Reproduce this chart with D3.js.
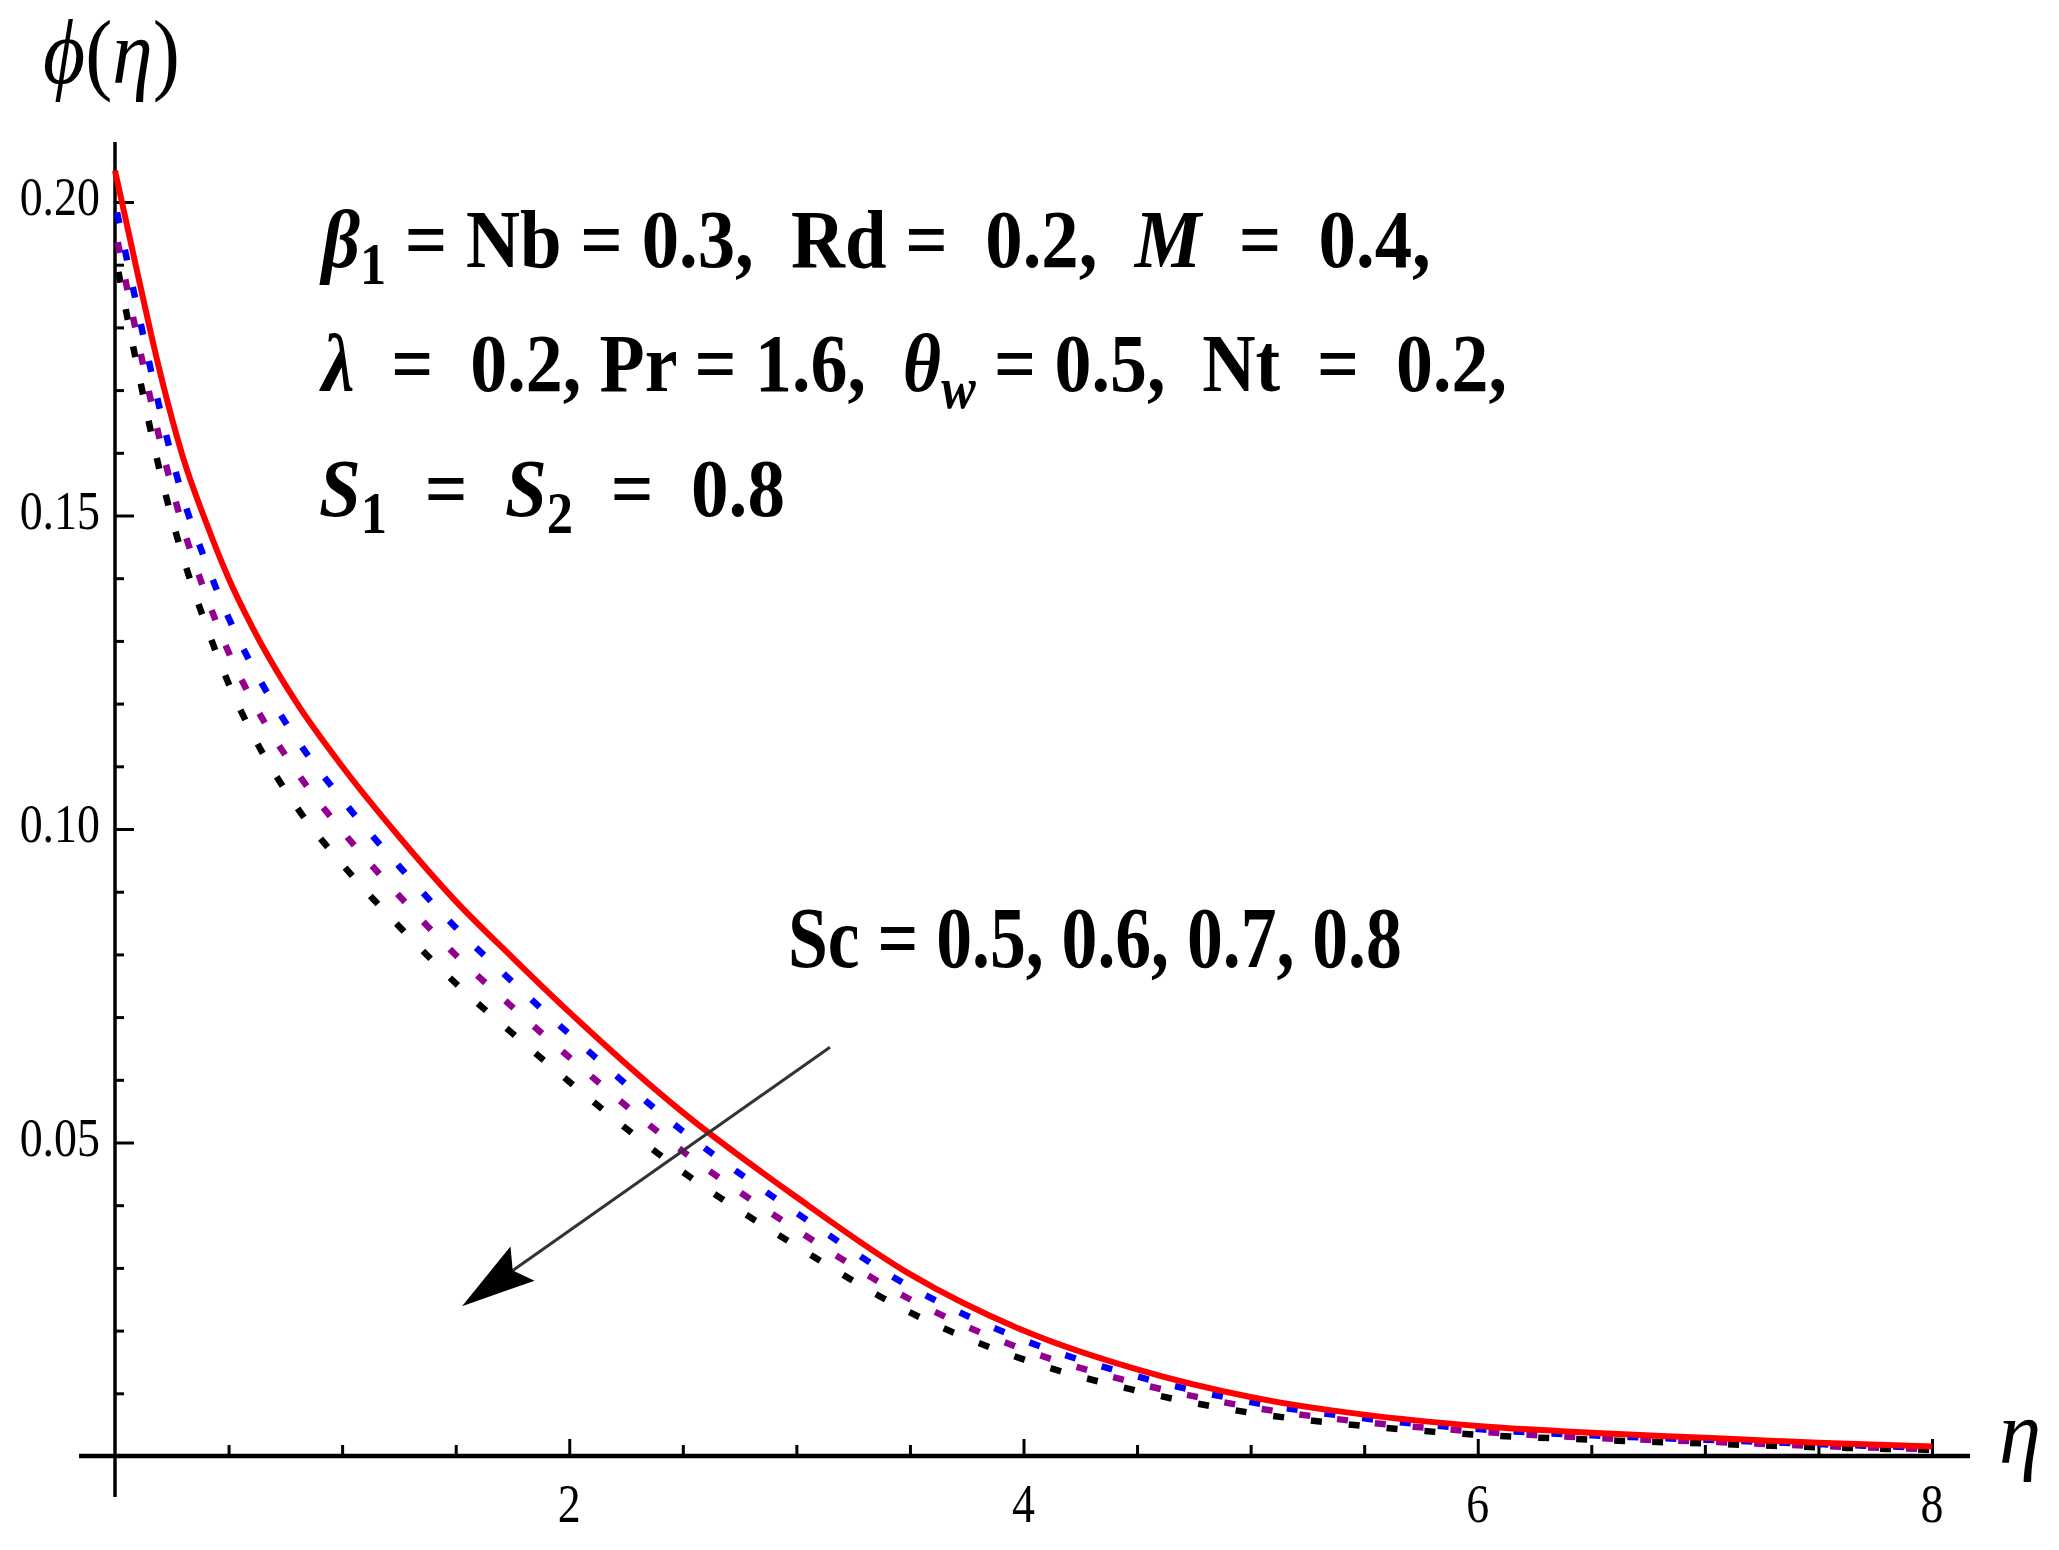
<!DOCTYPE html>
<html>
<head>
<meta charset="utf-8">
<script src="https://cdn.jsdelivr.net/npm/d3@7"></script>
<style>
  html, body { margin: 0; padding: 0; background: #ffffff; }
  svg { display: block; }
  text { font-family: "Liberation Serif", "Times New Roman", serif; }
</style>
</head>
<body>
<svg id="chart" width="2059" height="1550"></svg>
<script>
// ---------------- data ----------------
const etaValues = [0, 0.1, 0.2, 0.3, 0.4, 0.5, 0.6, 0.8, 1.0, 1.25, 1.5, 1.75, 2, 2.5, 3, 3.5, 4, 4.5, 5, 5.5, 6, 6.5, 7, 7.5, 8];
const phiSc05 = [0.2050, 0.1885, 0.1726, 0.1592, 0.1490, 0.1400, 0.1325, 0.1201, 0.1100, 0.0988, 0.0885, 0.0795, 0.0708, 0.0548, 0.0413, 0.0290, 0.0200, 0.0138, 0.0094, 0.0066, 0.0048, 0.0037, 0.0029, 0.0021, 0.0015];
const phiSc06 = [0.1999, 0.1828, 0.1666, 0.1528, 0.1426, 0.1337, 0.1263, 0.1143, 0.1047, 0.0941, 0.0843, 0.0756, 0.0673, 0.0518, 0.0388, 0.0270, 0.0185, 0.0127, 0.0086, 0.0060, 0.0043, 0.0033, 0.0026, 0.0019, 0.0013];
const phiSc07 = [0.1958, 0.1781, 0.1617, 0.1481, 0.1374, 0.1282, 0.1208, 0.1091, 0.0997, 0.0894, 0.0799, 0.0716, 0.0636, 0.0486, 0.0361, 0.0250, 0.0170, 0.0116, 0.0078, 0.0054, 0.0039, 0.0029, 0.0023, 0.0016, 0.0011];
const phiSc08 = [0.1917, 0.1734, 0.1567, 0.1433, 0.1326, 0.1232, 0.1155, 0.1035, 0.0944, 0.0845, 0.0754, 0.0674, 0.0597, 0.0453, 0.0335, 0.0229, 0.0154, 0.0104, 0.0069, 0.0048, 0.0034, 0.0026, 0.0020, 0.0014, 0.0010];
const scValues = ["0.5", "0.6", "0.7", "0.8"];

const xMajorTicks = [2, 4, 6, 8];
const xMinorTicks = [0.5, 1, 1.5, 2.5, 3, 3.5, 4.5, 5, 5.5, 6.5, 7, 7.5];
const xTickLabels = ["2", "4", "6", "8"];
const yMajorTicks = [0.05, 0.10, 0.15, 0.20];
const yMinorTicks = [0.01, 0.02, 0.03, 0.04, 0.06, 0.07, 0.08, 0.09, 0.11, 0.12, 0.13, 0.14, 0.16, 0.17, 0.18, 0.19];
const yTickLabels = ["0.05", "0.10", "0.15", "0.20"];

// arrow annotation (data coordinates: eta, phi)
const arrowFrom = [3.148, 0.0652];
const arrowTo = [1.528, 0.0239];

// ---------------- styles ----------------
const seriesStyle = [
  { color: "#ff0000", dash: null, width: 6 },
  { color: "#0000ff", dash: "11,27", width: 6.5 },
  { color: "#920092", dash: "11,27", width: 6.5 },
  { color: "#000000", dash: "11,27", width: 6.5 }
];

// ---------------- layout ----------------
const svg = d3.select("#chart");
const x = d3.scaleLinear().domain([0, 8]).range([115, 1932]);
const y = d3.scaleLinear().domain([0, 0.2]).range([1456, 202]);

// axes lines
svg.append("line").attr("x1", 79).attr("x2", 1970).attr("y1", y(0)).attr("y2", y(0))
  .attr("stroke", "#000").attr("stroke-width", 4.5);
svg.append("line").attr("x1", x(0)).attr("x2", x(0)).attr("y1", 142).attr("y2", 1497)
  .attr("stroke", "#000").attr("stroke-width", 3.5);

function styleAxis(g) {
  g.select(".domain").remove();
  g.selectAll(".tick line").attr("stroke", "#000").attr("stroke-width", 3);
  g.selectAll(".tick text").remove();
}
svg.append("g").attr("transform", `translate(0,${y(0)})`)
  .call(d3.axisTop(x).tickValues(xMinorTicks).tickSize(11)).call(styleAxis);
svg.append("g").attr("transform", `translate(0,${y(0)})`)
  .call(d3.axisTop(x).tickValues(xMajorTicks).tickSize(17)).call(styleAxis);
svg.append("g").attr("transform", `translate(${x(0)},0)`)
  .call(d3.axisRight(y).tickValues(yMinorTicks).tickSize(9)).call(styleAxis);
svg.append("g").attr("transform", `translate(${x(0)},0)`)
  .call(d3.axisRight(y).tickValues(yMajorTicks).tickSize(19)).call(styleAxis);

// tick labels
const tickScale = 0.85;
xMajorTicks.forEach((v, i) => {
  svg.append("g").attr("transform", `translate(${x(v)},1522) scale(${tickScale},1)`)
    .append("text").attr("text-anchor", "middle").attr("font-size", 54).attr("fill", "#000")
    .text(xTickLabels[i]);
});
yMajorTicks.forEach((v, i) => {
  svg.append("g").attr("transform", `translate(100,${y(v) + 13}) scale(${tickScale},1)`)
    .append("text").attr("text-anchor", "end").attr("font-size", 54).attr("fill", "#000")
    .text(yTickLabels[i]);
});

// curves
const allSeries = [phiSc05, phiSc06, phiSc07, phiSc08];
const line = d3.line().x(d => x(d[0])).y(d => y(d[1])).curve(d3.curveMonotoneX);
[3, 2, 1, 0].forEach(si => {
  const pts = etaValues.map((e, i) => [e, allSeries[si][i]]);
  const st = seriesStyle[si];
  const p = svg.append("path").attr("d", line(pts)).attr("fill", "none")
    .attr("stroke", st.color).attr("stroke-width", st.width);
  if (st.dash) p.attr("stroke-dasharray", st.dash).attr("stroke-dashoffset", -6 - si * 4);
});

// arrow
const ax0 = x(arrowFrom[0]), ay0 = y(arrowFrom[1]);
const ax1 = x(arrowTo[0]), ay1 = y(arrowTo[1]);
const ang = Math.atan2(ay1 - ay0, ax1 - ax0);
const headLen = 74, headHalf = 21, notch = 62;
const bx = ax1 - headLen * Math.cos(ang), by = ay1 - headLen * Math.sin(ang);
const nx = ax1 - notch * Math.cos(ang), ny = ay1 - notch * Math.sin(ang);
const px = -Math.sin(ang), py = Math.cos(ang);
svg.append("line").attr("x1", ax0).attr("y1", ay0).attr("x2", nx).attr("y2", ny)
  .attr("stroke", "#333").attr("stroke-width", 3);
svg.append("path")
  .attr("d", `M${ax1},${ay1} L${bx + px * headHalf},${by + py * headHalf} L${nx},${ny} L${bx - px * headHalf},${by - py * headHalf} Z`)
  .attr("fill", "#000");

// helper: fit a text group horizontally into [x0, x0+w] with baseline at b
function fitGroup(g, x0, b, w) {
  const bb = g.node().getBBox();
  const sx = w / bb.width;
  g.attr("transform", `translate(${x0 - bb.x * sx},${b}) scale(${sx},1)`);
}

function addRich(parts, size, weight, x0, b, w) {
  const g = svg.append("g");
  const t = g.append("text").attr("font-size", size).attr("font-weight", weight).attr("fill", "#000");
  parts.forEach(p => {
    const ts = t.append("tspan").text(p.t);
    if (p.i) ts.attr("font-style", "italic");
    if (p.sub) ts.attr("font-size", size * 0.7).attr("dy", size * 0.2);
    if (p.up) ts.attr("dy", -size * 0.2);
  });
  t.attr("xml:space", "preserve").style("white-space", "pre");
  fitGroup(g, x0, b, w);
  return g;
}

addRich([
  { t: "β", i: true }, { t: "1", sub: true }, { t: " = Nb = 0.3,  Rd =  0.2,  ", up: true },
  { t: "M", i: true }, { t: "  =  0.4," }
], 83, "bold", 319, 267, 1112);

addRich([
  { t: "λ", i: true }, { t: "  =  0.2, Pr = 1.6,  " }, { t: "θ", i: true },
  { t: "w", i: true, sub: true }, { t: " = 0.5,  Nt  =  0.2,", up: true }
], 83, "bold", 319, 391, 1188);

addRich([
  { t: "S", i: true }, { t: "1", sub: true }, { t: "  =  ", up: true },
  { t: "S", i: true }, { t: "2", sub: true }, { t: "  =  0.8", up: true }
], 83, "bold", 319, 516, 466);

// Sc label
addRich([{ t: "Sc = " + scValues.join(", ") }], 86, "bold", 788, 967, 614);

// axis titles
addRich([{ t: "ϕ", i: true }, { t: "(" }, { t: "η", i: true }, { t: ")" }], 90, "normal", 43, 83, 137);
addRich([{ t: "η", i: true }], 90, "normal", 1999, 1463, 42);
</script>
</body>
</html>
